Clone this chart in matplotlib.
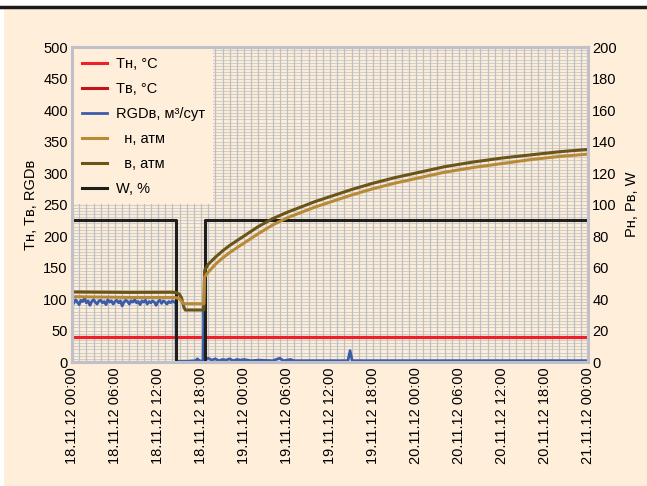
import numpy as np
import matplotlib
matplotlib.use("Agg")
import matplotlib.pyplot as plt
from matplotlib.patches import Rectangle
from matplotlib.lines import Line2D

plt.rcParams['font.family'] = ['Liberation Sans', 'DejaVu Sans']

# hours from 18.11.12 00:00
x_ticks = [0, 6, 12, 18, 24, 30, 36, 42, 48, 54, 60, 66, 72]
x_labels = ['18.11.12 00:00', '18.11.12 06:00', '18.11.12 12:00', '18.11.12 18:00',
            '19.11.12 00:00', '19.11.12 06:00', '19.11.12 12:00', '19.11.12 18:00',
            '20.11.12 00:00', '20.11.12 06:00', '20.11.12 12:00', '20.11.12 18:00',
            '21.11.12 00:00']

# temperatures, left axis
t_temp = [0, 72]
tn_vals = [40, 40]
tv_vals = [40, 40]

# RGD, left axis
t_rgd1 = list(np.arange(0, 14.51, 0.25))
rgd1 = [97, 93, 99, 95, 91, 98, 96, 101, 94, 97, 90, 96, 99, 95, 92, 97, 98, 94, 96, 91,
        99, 95, 97, 92, 96, 98, 94, 97, 89, 95, 98, 96, 92, 97, 95, 99, 94, 96, 91, 97,
        95, 98, 92, 96, 94, 97, 95, 90, 96, 98, 93, 97, 95, 92, 96, 94, 97, 95, 96]
t_rgd2 = [14.55, 15, 16, 17.2, 17.5, 17.8, 18.3, 18.4, 18.6, 19, 19.5, 20, 20.5, 21, 21.5,
          22, 22.5, 23, 23.5, 24, 25, 26, 28, 29, 29.5, 30.5, 31, 38.5, 38.8, 39.1, 72]
rgd2 = [1, 1, 1, 2, 5, 2, 1, 95, 3, 6, 3, 5, 2, 4, 3,
        5, 2, 4, 3, 4, 2, 3, 2, 6, 2, 4, 2, 2, 18, 2, 2]

# pressures and W, right axis
t_p = [0, 8, 14.0, 14.6, 15.0, 15.3, 15.6, 15.8, 18.4,
       18.5, 19, 20, 21, 22, 23, 24, 26, 28, 30, 32, 34, 36, 39, 42, 45, 48, 52, 56, 60, 64, 68, 72]
pv_vals = [44.5, 44.2, 44.3, 44, 43, 40.5, 35, 33, 33,
           58, 62, 66.5, 70.5, 74, 77, 80, 86, 91, 95, 98.5, 102, 105, 109.5, 113.5, 117, 120,
           124, 127, 129.5, 131.5, 133.5, 135]
pn_vals = [41.5, 41, 41, 40.8, 40, 38.5, 37, 37, 37,
           54, 57, 62, 66, 69.5, 72.5, 75.5, 81.5, 87, 91.5, 95, 98.5, 101.5, 106, 110, 113.5,
           116.5, 120.5, 123.5, 126, 128.5, 130.5, 132]
t_w = [0, 14.55, 14.55, 18.55, 18.55, 72]
w_vals = [90, 90, 0, 0, 90, 90]

cream = '#FFEFDA'
fig = plt.figure(figsize=(6.47, 4.86), dpi=100)
fig.patch.set_facecolor('white')
fig.add_artist(Rectangle((0.006, 0), 0.994, 1 - 9 / 486, transform=fig.transFigure,
                         facecolor=cream, edgecolor='none', zorder=-10))
fig.add_artist(Line2D([0, 1], [1 - 7.5 / 486, 1 - 7.5 / 486], transform=fig.transFigure,
                      color='#1a1a1a', lw=2.5))

ax = fig.add_axes([72 / 647, 1 - 362 / 486, 516 / 647, 315 / 486])
ax.set_facecolor(cream)
ax2 = ax.twinx()

ax.set_xlim(0, 72)
ax.set_ylim(0, 500)
ax2.set_ylim(0, 200)

# grid
for y in np.arange(5, 500, 5):
    ax.axhline(y, color='#D2CDC8', lw=0.8, zorder=0)
for x in range(1, 72):
    ax.axvline(x, color='#BCBEC8', lw=0.9, zorder=0)

l_tv, = ax.plot(t_temp, tv_vals, color='#C4121C', lw=2.2, label='Tв, °C')
l_tn, = ax.plot(t_temp, tn_vals, color='#F0202A', lw=2.2, label='Tн, °C')
l_rgd, = ax.plot(t_rgd1 + t_rgd2, rgd1 + rgd2, color='#3C5CAA', lw=2.0, label='RGDв, м³/сут')

l_w, = ax2.plot(t_w, w_vals, color='#1E1E1E', lw=2.2, label='W, %')
l_pv, = ax2.plot(t_p, pv_vals, color='#6B5418', lw=2.2, label='  в, атм')
l_pn, = ax2.plot(t_p, pn_vals, color='#B88A38', lw=2.2, label='  н, атм')

ax.set_xticks(x_ticks)
ax.set_xticklabels(x_labels, rotation=90, fontsize=10.5)
ax.set_yticks(np.arange(0, 501, 50))
ax2.set_yticks(np.arange(0, 201, 20))
ax.tick_params(axis='y', length=0, labelsize=10.5, pad=3)
ax.tick_params(axis='x', length=0, labelsize=10.5, pad=4)
ax2.tick_params(axis='y', length=0, labelsize=10.5, pad=3)

ax.set_ylabel('Tн, Tв, RGDв', fontsize=10.5, labelpad=4)
ax2.set_ylabel('Pн, Pв, W', fontsize=10.5, labelpad=6)

for a in (ax, ax2):
    for s in a.spines.values():
        s.set_color('#C0C0C8')
        s.set_linewidth(2.2)

leg = ax2.legend(handles=[l_tn, l_tv, l_rgd, l_pn, l_pv, l_w], loc='upper left',
                 bbox_to_anchor=(0, 1), borderaxespad=0.15, fontsize=10.5,
                 frameon=True, fancybox=False, facecolor=cream, edgecolor='none',
                 framealpha=1, handlelength=1.7, handletextpad=0.6,
                 labelspacing=0.75, borderpad=0.55)

fig.savefig('out.png', dpi=100)
